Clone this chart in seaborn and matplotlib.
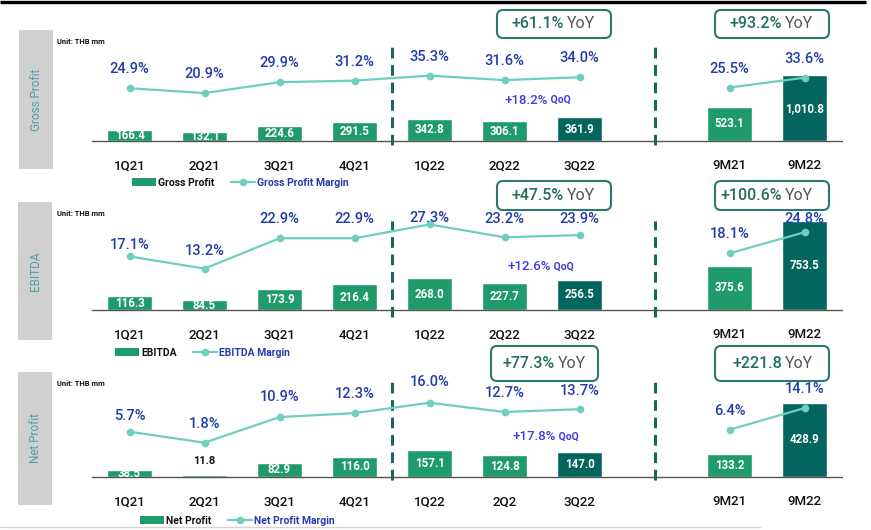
import numpy as np
import pandas as pd
import matplotlib
matplotlib.use("Agg")
import matplotlib.pyplot as plt
import seaborn as sns
from matplotlib.patches import Patch, Rectangle, FancyBboxPatch
from matplotlib.lines import Line2D

# data
quarters = ["1Q21", "2Q21", "3Q21", "4Q21", "1Q22", "2Q22", "3Q22"]
nine_months = ["9M21", "9M22"]
net_tick_labels = ["1Q21", "2Q21", "3Q21", "4Q21", "1Q22", "2Q2", "3Q22", "", "9M21", "9M22"]

gross_profit = [166.4, 132.1, 224.6, 291.5, 342.8, 306.1, 361.9, 523.1, 1010.8]
gross_margin = [24.9, 20.9, 29.9, 31.2, 35.3, 31.6, 34.0, 25.5, 33.6]
ebitda = [116.3, 84.5, 173.9, 216.4, 268.0, 227.7, 256.5, 375.6, 753.5]
ebitda_margin = [17.1, 13.2, 22.9, 22.9, 27.3, 23.2, 23.9, 18.1, 24.8]
net_profit = [38.5, 11.8, 82.9, 116.0, 157.1, 124.8, 147.0, 133.2, 428.9]
net_margin = [5.7, 1.8, 10.9, 12.3, 16.0, 12.7, 13.7, 6.4, 14.1]

gp_yoy = ["+61.1%", "+93.2%"]
ebitda_yoy = ["+47.5%", "+100.6%"]
net_yoy = ["+77.3%", "+221.8"]
qoq = ["+18.2%", "+12.6%", "+17.8%"]

GREEN = "#1f9b6b"
TEAL = "#03665e"
LINE = "#6ecfbe"
BLUE = "#233cab"
QOQ_BLUE = "#3c3ce6"
W, H = 871, 530

sns.set_theme(style="white")
plt.rcParams["font.family"] = ["Roboto", "DejaVu Sans"]

fig = plt.figure(figsize=(W / 100, H / 100), dpi=100)
order = quarters + [" "] + nine_months
periods = quarters + nine_months

panels = [
    dict(title="Gross Profit", bars=gross_profit, margin=gross_margin,
         legend=("Gross Profit", "Gross Profit Margin"), yoy=gp_yoy, qoq=qoq[0],
         base=141, bar_top=1692, lo=-18.7, hi=72.2, box=(19, 30, 34, 139),
         dash=(-0.04, 0.86), leg_x=132, leg_y=183, yoy_y=(10, 28), qoq_xy=(504, 100),
         lift=[19, 19, 19, 19, 19, 19, 19, 19, 19], ticks=order),
    dict(title="EBITDA", bars=ebitda, margin=ebitda_margin,
         legend=("EBITDA", "EBITDA Margin"), yoy=ebitda_yoy, qoq=qoq[1],
         base=310, bar_top=932, lo=0, hi=35.1, box=(18, 202, 34, 138),
         dash=(-0.06, 0.81), leg_x=115, leg_y=353, yoy_y=(181, 29), qoq_xy=(507, 267),
         lift=[11, 18, 19, 19, 6, 18, 16, 19, 13], ticks=order),
    dict(title="Net Profit", bars=net_profit, margin=net_margin,
         legend=("Net Profit", "Net Profit Margin"), yoy=net_yoy, qoq=qoq[2],
         base=477, bar_top=636, lo=-10.4, hi=28.7, box=(18, 372, 34, 133),
         dash=(-0.03, 0.87), leg_x=140, leg_y=521, yoy_y=(346, 35), qoq_xy=(512, 437),
         lift=[16, 19, 20, 19, 21, 19, 18, 19, 19], ticks=net_tick_labels),
]

for p in panels:
    df = pd.DataFrame({"period": periods, "value": p["bars"], "margin": p["margin"]})
    df["pos"] = [order.index(c) for c in df["period"]]
    df["seg"] = ["q"] * len(quarters) + ["9m"] * len(nine_months)
    colors = {c: (TEAL if c in ("3Q22", "9M22") else GREEN) for c in periods}

    ax = fig.add_axes([92 / W, 1 - p["base"] / H, 750 / W, 110 / H])
    sns.barplot(data=df, x="period", y="value", order=order, hue="period",
                palette=colors, legend=False, width=0.6, saturation=1, ax=ax)
    ax.set_xlim(-0.5, 9.5)
    ax.set_ylim(0, p["bar_top"])
    ax.set_xlabel("")
    ax.set_ylabel("")
    ax.set_yticks([])
    for s in ["top", "left", "right"]:
        ax.spines[s].set_visible(False)
    ax.spines["bottom"].set_color("#555555")
    ax.spines["bottom"].set_linewidth(1.0)
    ax.set_xticks(range(len(order)))
    ax.set_xticklabels(p["ticks"], fontsize=9.5, fontweight="medium", color="#111111")
    ax.set_xticks(np.arange(-0.5, 10, 1), minor=True)
    ax.tick_params(axis="x", which="major", length=0, pad=13)
    ax.tick_params(axis="x", which="minor", length=4, width=1, color="#555555", direction="out")
    ax.patch.set_visible(False)

    px_per_unit = 110 / p["bar_top"]
    for _, r in df.iterrows():
        txt = f"{r['value']:,.1f}"
        if r["value"] * px_per_unit < 4:
            ax.annotate(txt, (r["pos"], r["value"]), xytext=(0, 14), textcoords="offset pixels",
                        ha="center", va="center", fontsize=8, fontweight="bold", color="#111111")
        else:
            ax.text(r["pos"], r["value"] / 2, txt, ha="center", va="center",
                    fontsize=8.3, fontweight="bold", color="white")

    for xv in (3.5, 7):
        ax.axvline(xv, ymin=p["dash"][0], ymax=p["dash"][1], color="#17695f", lw=2.2,
                   ls=(0, (3.5, 2.2)), clip_on=False)

    ax2 = ax.twinx()
    sns.lineplot(data=df, x="pos", y="margin", units="seg", estimator=None, ax=ax2,
                 color=LINE, lw=1.6, marker="o", markersize=5.5, markeredgewidth=0)
    ax2.set_ylim(p["lo"], p["hi"])
    ax2.set_xlim(-0.5, 9.5)
    ax2.set_ylabel("")
    ax2.set_xlabel("")
    ax2.set_yticks([])
    for s in ax2.spines.values():
        s.set_visible(False)
    for (_, r), lift in zip(df.iterrows(), p["lift"]):
        ax2.annotate(f"{r['margin']:.1f}%", (r["pos"], r["margin"]), xytext=(0, lift),
                     textcoords="offset pixels", ha="center", va="center",
                     fontsize=10.5, fontweight="medium", color=BLUE)

    handles = [Patch(facecolor=GREEN, edgecolor="none"),
               Line2D([], [], color=LINE, lw=1.6, marker="o", markersize=5.5, markeredgewidth=0)]
    leg = ax.legend(handles, p["legend"], loc="center left",
                    bbox_to_anchor=(p["leg_x"] / W, 1 - p["leg_y"] / H),
                    bbox_transform=fig.transFigure, ncol=2, frameon=False,
                    fontsize=7.5, handlelength=2.3, handleheight=0.8, handletextpad=0.2,
                    columnspacing=1.6, borderpad=0, borderaxespad=0)
    leg.get_texts()[0].set_color("#111111")
    leg.get_texts()[1].set_color(BLUE)
    for t in leg.get_texts():
        t.set_fontweight("semibold")

# overlay in pixel coordinates for the slide decorations
ov = fig.add_axes([0, 0, 1, 1])
ov.set_xlim(0, W)
ov.set_ylim(H, 0)
ov.axis("off")

ov.plot([0, 866], [2, 2], color="black", lw=2.4, solid_capstyle="butt")
ov.plot([0, 760], [527, 527], color="#d5d5d5", lw=1)

for p in panels:
    x0, y0, bw, bh = p["box"]
    ov.add_patch(Rectangle((x0, y0), bw, bh, facecolor="#d0d0d0", edgecolor="none"))
    ov.text(x0 + bw / 2, y0 + bh / 2, p["title"], rotation=90, ha="center", va="center",
            fontsize=8.5, color="#4ba0a5")
    ov.text(57, y0 + 12, "Unit: THB mm", fontsize=5.5, fontweight="bold", color="#111111",
            va="center")

    ty, th = p["yoy_y"]
    for (bx, bwid), label in zip([(497, 114), (715, 114)], p["yoy"]):
        if p["title"] == "Net Profit" and bx == 497:
            bx, bwid = 491, 107
        ov.add_patch(FancyBboxPatch((bx, ty), bwid, th, boxstyle="round,pad=0,rounding_size=6",
                                    facecolor="white", edgecolor="#2a786e", lw=1.5))
        split = bx + bwid / 2 + 11
        ov.text(split - 1, ty + th / 2, label, ha="right", va="center", fontsize=11.5,
                fontweight="medium", color="#236e5f")
        ov.text(split + 2, ty + th / 2, "YoY", ha="left", va="center", fontsize=11.5,
                color="#555555")

    qx, qy = p["qoq_xy"]
    t = ov.text(qx, qy, p["qoq"], ha="left", va="center", fontsize=9.5, fontweight="medium",
                color=QOQ_BLUE)
    ov.annotate(" QoQ", xy=(1, 0.5), xycoords=t, ha="left", va="center",
                fontsize=7.5, color=QOQ_BLUE, fontweight="bold")

fig.savefig("out.png", dpi=100)
